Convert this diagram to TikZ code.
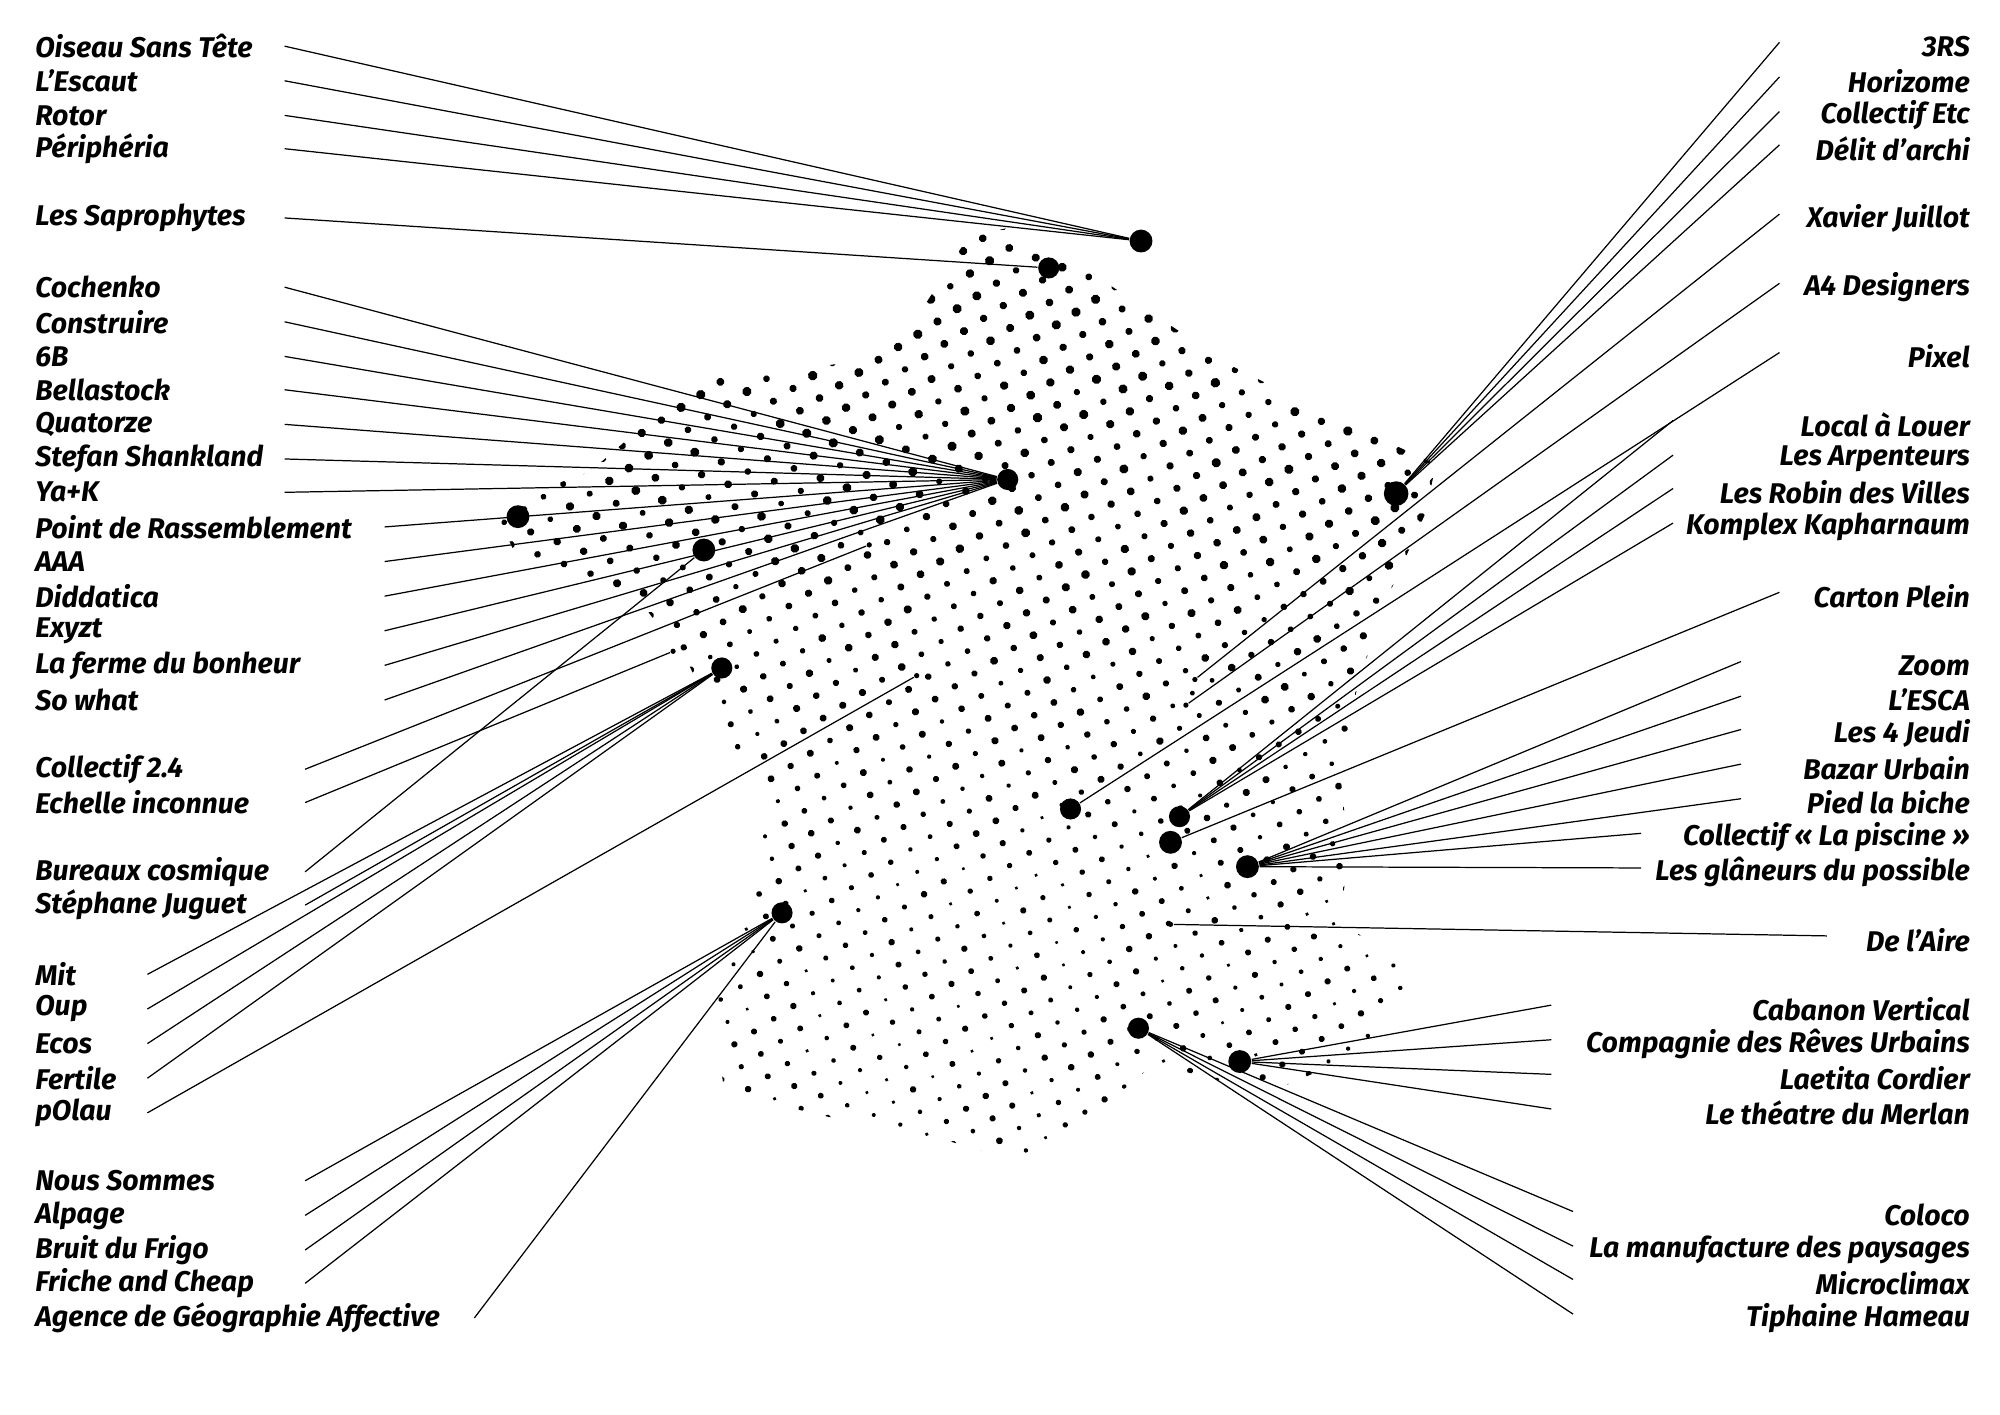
\documentclass[tikz,border=0pt]{standalone}
\usepackage{fontspec}
\setmainfont{Fira Sans}
\usetikzlibrary{positioning}

\tikzset{
    lab/.style={inner sep=0pt,font=\fontsize{8.1}{9}\selectfont\bfseries\itshape},
    link/.style={line width=0.35pt,black},
    city/.style={circle,fill=black,inner sep=0pt,minimum size=#1},
    city/.default=6pt
}

\begin{document}
\begin{tikzpicture}[x=0.0128cm,y=-0.0128cm]
\useasboundingbox (0,0) rectangle (1560,1103);

% === halftone map ===
\pgfmathsetseed{17}
\begin{scope}
    \clip (785,178) -- (850,212) -- (960,285) -- (1050,330) -- (1120,362) -- (1112,400)
        -- (1085,460) -- (1060,530) -- (1045,600) -- (1052,665) -- (1045,720) -- (1105,755)
        -- (1065,820) -- (990,852) -- (900,830) -- (850,872) -- (800,908) -- (740,890)
        -- (650,872) -- (565,852) -- (555,780) -- (588,700) -- (598,620) -- (560,565)
        -- (538,520) -- (500,470) -- (400,428) -- (385,395) -- (460,368) -- (545,295)
        -- (610,290) -- (680,280) -- (720,240) -- (755,185) -- cycle;
    \begin{scope}[rotate around={-20:(750,550)}]
    \foreach \i in {0,...,40} {
        \foreach \j in {0,...,64} {
            \pgfmathsetmacro\px{300+22*\i+11*mod(\j,2)}
            \pgfmathsetmacro\py{100+14.6*\j}
            \pgfmathsetmacro\r{1.3+1.2*(0.5+0.5*sin(2*\i+5*\j))+1.3*rnd}
            \fill (\px,\py) circle (\r);
        }
    }
    \end{scope}
\end{scope}

% === cities ===
\node[city=6.5pt] (nord) at (890,188) {};
\node[city] (sapro) at (818,209) {};
\node[city] (paris) at (786,374) {};
\node[city=6.5pt] (nantes) at (404,403) {};
\node[city=6.5pt] (angers) at (549,429) {};
\node[city] (bordeaux) at (563,521) {};
\node[city] (pau) at (610,712) {};
\node[city=7pt] (lille) at (1089,385) {};
\node[city] (toulouse) at (835,631) {};
\node[city] (montp) at (920,637) {};
\node[city=6.5pt] (nimes) at (913,657) {};
\node[city=6.5pt] (lyon) at (973,676) {};
\node[city] (mars) at (888,802) {};
\node[city=6.5pt] (nice) at (967,828) {};
\node[city=1.5pt] (tours) at (678,425) {};
\node[city=1.5pt] (poitiers) at (525,508) {};
\node[city=1.5pt] (limoges) at (715,527) {};
\node[city=1.5pt] (metz) at (932,530) {};
\node[city=1.5pt] (nancy) at (925,550) {};
\node[city=1.5pt] (gre) at (913,721) {};

% === left labels ===
\foreach \t/\y/\lx/\c in {Oiseau Sans Tête/36/222/nord, L’Escaut/63/222/nord, Rotor/90/222/nord,
    Périphéria/116/222/nord, Les Saprophytes/170/222/sapro,
    Cochenko/224/222/paris, Construire/251/222/paris, 6B/278/222/paris, Bellastock/304/222/paris,
    Quatorze/331/222/paris, Stefan Shankland/358/222/paris, Ya+K/384/222/paris,
    Point de Rassemblement/411/300/paris, AAA/438/300/paris, Diddatica/465/300/paris,
    Exyzt/492/300/paris, La ferme du bonheur/519/300/paris, So what/546/300/paris,
    Collectif 2.4/600/238/tours, Echelle inconnue/626/238/poitiers,
    Bureaux cosmique/680/238/angers, Stéphane Juguet/706/238/bordeaux,
    Mit/760/115/bordeaux, Oup/787/115/bordeaux, Ecos/814/115/bordeaux, Fertile/841/115/bordeaux,
    pOlau/868/115/limoges,
    Nous Sommes/921/238/pau, Alpage/948/238/pau, Bruit du Frigo/975/238/pau,
    Friche and Cheap/1001/238/pau, Agence de Géographie Affective/1028/370/pau} {
    \node[lab,anchor=west] (l\y) at (27,\y) {\t};
    \coordinate (sl\y) at (\lx,\y);
    \draw[link] (sl\y) -- (\c);
}

% === right labels ===
\foreach \t/\y/\lx/\c in {3RS/36/1388/lille, Horizome/63/1388/lille, Collectif Etc/90/1388/lille,
    Délit d’archi/116/1388/lille, Xavier Juillot/170/1388/metz, A4 Designers/224/1388/nancy,
    Pixel/278/1388/toulouse,
    Local à Louer/331/1305/montp, Les Arpenteurs/358/1305/montp,
    Les Robin des Villes/384/1305/montp, Komplex Kapharnaum/411/1305/montp,
    Carton Plein/465/1388/nimes,
    Zoom/519/1358/lyon, L’ESCA/546/1358/lyon, Les 4 Jeudi/572/1358/lyon,
    Bazar Urbain/599/1358/lyon, Pied la biche/626/1358/lyon,
    Collectif « La piscine »/653/1280/lyon, Les glâneurs du possible/680/1280/lyon,
    De l’Aire/733/1425/gre,
    Cabanon Vertical/787/1210/nice, Compagnie des Rêves Urbains/814/1210/nice,
    Laetita Cordier/841/1210/nice, Le théatre du Merlan/868/1210/nice,
    Coloco/948/1227/mars, La manufacture des paysages/975/1227/mars,
    Microclimax/1001/1227/mars, Tiphaine Hameau/1028/1227/mars} {
    \node[lab,anchor=east] (r\y) at (1537,\y) {\t};
    \coordinate (sr\y) at (\lx,\y-3);
    \draw[link] (sr\y) -- (\c);
}

\end{tikzpicture}
\end{document}
